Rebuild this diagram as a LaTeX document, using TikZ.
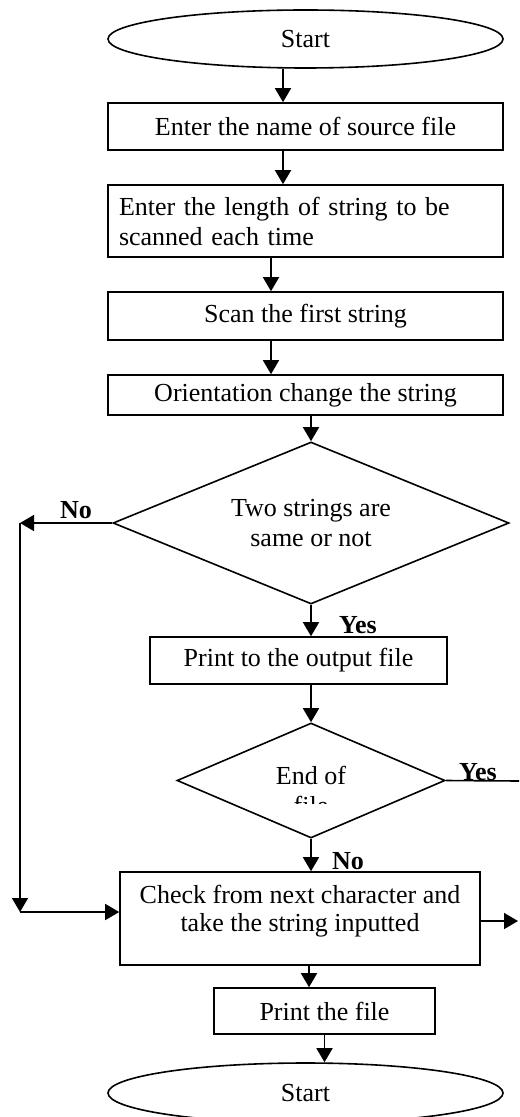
\documentclass[tikz,border=0pt]{standalone}
\usepackage{fontspec}
\setmainfont{Liberation Serif}
\usetikzlibrary{shapes.geometric,arrows.meta,positioning}

\tikzset{
  every node/.style={font=\fontsize{13}{15}\selectfont},
  terminal/.style={draw, ellipse, line width=0.8pt, minimum width=197.5pt, minimum height=29pt, inner sep=0pt},
  procbox/.style={draw, rectangle, line width=0.8pt, inner sep=0pt, align=center},
  decision/.style={draw, diamond, aspect=2.4, line width=0.8pt, inner sep=0pt, align=center},
  flowarrow/.style={line width=0.8pt, -{Triangle[length=7pt,width=8pt]}},
  flowline/.style={line width=0.8pt},
  answer/.style={font=\fontsize{13}{15}\selectfont\bfseries, inner sep=0pt, anchor=base},
}

\begin{document}
\begin{tikzpicture}[x=0.5pt, y=-0.5pt]
  \useasboundingbox (0,0) rectangle (519,1117);

  % steps
  \node[terminal] (start) at (305.5,39) {Start};
  \node[procbox, minimum width=197.5pt, minimum height=23.5pt] (srcname) at (305.5,126.5) {Enter the name of source file};
  \node[procbox, minimum height=36pt, text width=186.5pt, inner xsep=5.5pt, align=left] (strlen) at (305.5,221) {Enter the length of string to be\\scanned each time};
  \node[procbox, minimum width=197.5pt, minimum height=24pt] (scanfirst) at (305.5,316) {Scan the first string};
  \node[procbox, minimum width=197.5pt, minimum height=20pt] (orient) at (305.5,395) {Orientation change the string};
  \node[decision, minimum width=198pt, minimum height=81pt] (same) at (311,523) {Two strings are\\same or not};
  \node[procbox, minimum width=148.5pt, minimum height=23.5pt] (printout) at (298.5,660.5) {Print to the output file};
  \node[decision, minimum width=134pt, minimum height=57.5pt] (eof) at (311,780.5) {};
  \begin{scope}
    \clip (177,723) rectangle (445,803);
    \node[align=center, inner sep=0pt] (eoftext) at (311,790) {End of\\file};
  \end{scope}
  \node[procbox, minimum width=180pt, minimum height=46.5pt] (check) at (300,918.5) {};
  \node[align=center, inner sep=0pt, font=\fontsize{13}{14}\selectfont] (checktext) at (300,911) {Check from next character and\\take the string inputted};
  \node[procbox, minimum width=110.5pt, minimum height=23pt] (printfile) at (324.5,1011) {Print the file};
  \node[terminal, minimum height=30pt] (stop) at (305.5,1093) {Start};

  % free ends
  \coordinate (nobend) at (20,523);
  \coordinate (nodown) at (20,912);
  \coordinate (yesout) at (519,781);
  \coordinate (checkout) at (518,921);

  % connectors
  \draw[flowarrow] ([xshift=-11.25pt]start.south) -- ([xshift=-11.25pt]srcname.north);
  \draw[flowarrow] ([xshift=-11.25pt]srcname.south) -- ([xshift=-11.25pt]strlen.north);
  \draw[flowarrow] ([xshift=-17.25pt]strlen.south) -- ([xshift=-17.25pt]scanfirst.north);
  \draw[flowarrow] ([xshift=-17.25pt]scanfirst.south) -- ([xshift=-17.25pt]orient.north);
  \draw[flowarrow] (same.north |- orient.south) -- (same.north);
  \draw[flowarrow] (same.west) -- (nobend);
  \draw[flowarrow] (nobend) -- (nodown);
  \draw[flowarrow] (nodown) -- (nodown -| check.west);
  \draw[flowarrow] (same.south) -- (same.south |- printout.north);
  \draw[flowarrow] (eof.north |- printout.south) -- (eof.north);
  \draw[flowline] (eof.east) -- (yesout);
  \draw[flowarrow] (eof.south) -- (eof.south |- check.north);
  \draw[flowarrow] (checkout -| check.east) -- (checkout);
  \draw[flowarrow] ([xshift=4.5pt]check.south) -- ([xshift=4.5pt]check.south |- printfile.north);
  \draw[flowarrow] (printfile.south) -- (printfile.south |- stop.north);

  % answers
  \node[answer] (nolbl) at (76,518) {No};
  \node[answer] (yeslbl) at (358,633) {Yes};
  \node[answer] (eofyes) at (478,780) {Yes};
  \node[answer] (eofno) at (348,869) {No};
\end{tikzpicture}
\end{document}
